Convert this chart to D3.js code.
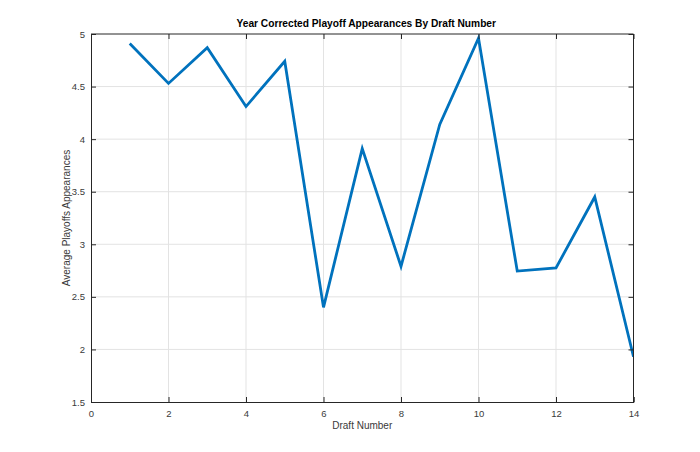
<!DOCTYPE html>
<html>
<head>
<meta charset="utf-8">
<script src="https://cdn.jsdelivr.net/npm/d3@7"></script>
<style>
  body { margin: 0; background: #fff; }
  svg { font-family: "Liberation Sans", Arial, Helvetica, sans-serif; }
</style>
</head>
<body>
<div id="chart"></div>
<script>
// data
const draftNumbers = [1, 2, 3, 4, 5, 6, 7, 8, 9, 10, 11, 12, 13, 14];
const avgPlayoffs = [4.91, 4.53, 4.87, 4.31, 4.74, 2.40, 3.91, 2.79, 4.14, 4.96, 2.745, 2.775, 3.45, 1.93];
const xTicks = [0, 2, 4, 6, 8, 10, 12, 14];
const yTicks = [1.5, 2, 2.5, 3, 3.5, 4, 4.5, 5];

const width = 700, height = 452;
const margin = { top: 34, right: 66.5, bottom: 50, left: 91 };
const innerW = width - margin.left - margin.right;
const innerH = height - margin.top - margin.bottom;

const svg = d3.select("#chart").append("svg")
    .attr("width", width)
    .attr("height", height);

const x = d3.scaleLinear().domain([0, 14]).range([0, innerW]);
const y = d3.scaleLinear().domain([1.5, 5]).range([innerH, 0]);

const g = svg.append("g")
    .attr("transform", `translate(${margin.left},${margin.top})`);

svg.append("defs").append("clipPath").attr("id", "clip")
    .append("rect").attr("width", innerW).attr("height", innerH);

// grid
g.append("g").selectAll("line.vx")
    .data(xTicks.slice(1, -1))
    .join("line")
    .attr("x1", d => x(d)).attr("x2", d => x(d))
    .attr("y1", 0).attr("y2", innerH)
    .attr("stroke", "#e3e3e3").attr("stroke-width", 1);

g.append("g").selectAll("line.hy")
    .data(yTicks.slice(1, -1))
    .join("line")
    .attr("x1", 0).attr("x2", innerW)
    .attr("y1", d => y(d)).attr("y2", d => y(d))
    .attr("stroke", "#e3e3e3").attr("stroke-width", 1);

// line
const line = d3.line()
    .x((d, i) => x(draftNumbers[i]))
    .y(d => y(d));

g.append("path")
    .datum(avgPlayoffs)
    .attr("clip-path", "url(#clip)")
    .attr("fill", "none")
    .attr("stroke", "#0072BD")
    .attr("stroke-width", 2.8)
    .attr("stroke-linejoin", "miter")
    .attr("d", line);

// axes (ticks inward, MATLAB style)
const axisColor = "#262626";
const tickLen = 5;

const xAxis = g.append("g")
    .attr("transform", `translate(0,${innerH})`)
    .call(d3.axisBottom(x).tickValues(xTicks).tickSize(-tickLen).tickPadding(8).tickFormat(d3.format("d")));
const yAxis = g.append("g")
    .call(d3.axisLeft(y).tickValues(yTicks).tickSize(-tickLen).tickPadding(6).tickFormat(d => d));
const xTop = g.append("g")
    .call(d3.axisTop(x).tickValues(xTicks).tickSize(-tickLen).tickFormat(""));
const yRight = g.append("g")
    .attr("transform", `translate(${innerW},0)`)
    .call(d3.axisRight(y).tickValues(yTicks).tickSize(-tickLen).tickFormat(""));

[xAxis, yAxis, xTop, yRight].forEach(a => {
    a.selectAll(".domain").attr("stroke", axisColor).attr("stroke-width", 1);
    a.selectAll(".tick line").attr("stroke", axisColor);
    a.selectAll("text").attr("fill", "#3a3a3a").style("font-size", "9.5px");
});
xTop.selectAll(".domain").attr("d", `M0,0H${innerW}`);
yRight.selectAll(".domain").attr("d", `M0,0V${innerH}`);

// labels
svg.append("text")
    .attr("x", margin.left + innerW / 2 + 4)
    .attr("y", 27)
    .attr("text-anchor", "middle")
    .style("font-size", "10.2px")
    .style("font-weight", "bold")
    .attr("fill", "#000")
    .text("Year Corrected Playoff Appearances By Draft Number");

svg.append("text")
    .attr("x", margin.left + innerW / 2)
    .attr("y", 429)
    .attr("text-anchor", "middle")
    .style("font-size", "10px")
    .attr("fill", "#3a3a3a")
    .text("Draft Number");

svg.append("text")
    .attr("transform", `translate(70,${margin.top + innerH / 2}) rotate(-90)`)
    .attr("text-anchor", "middle")
    .style("font-size", "10px")
    .attr("fill", "#3a3a3a")
    .text("Average Playoffs Appearances");
</script>
</body>
</html>
